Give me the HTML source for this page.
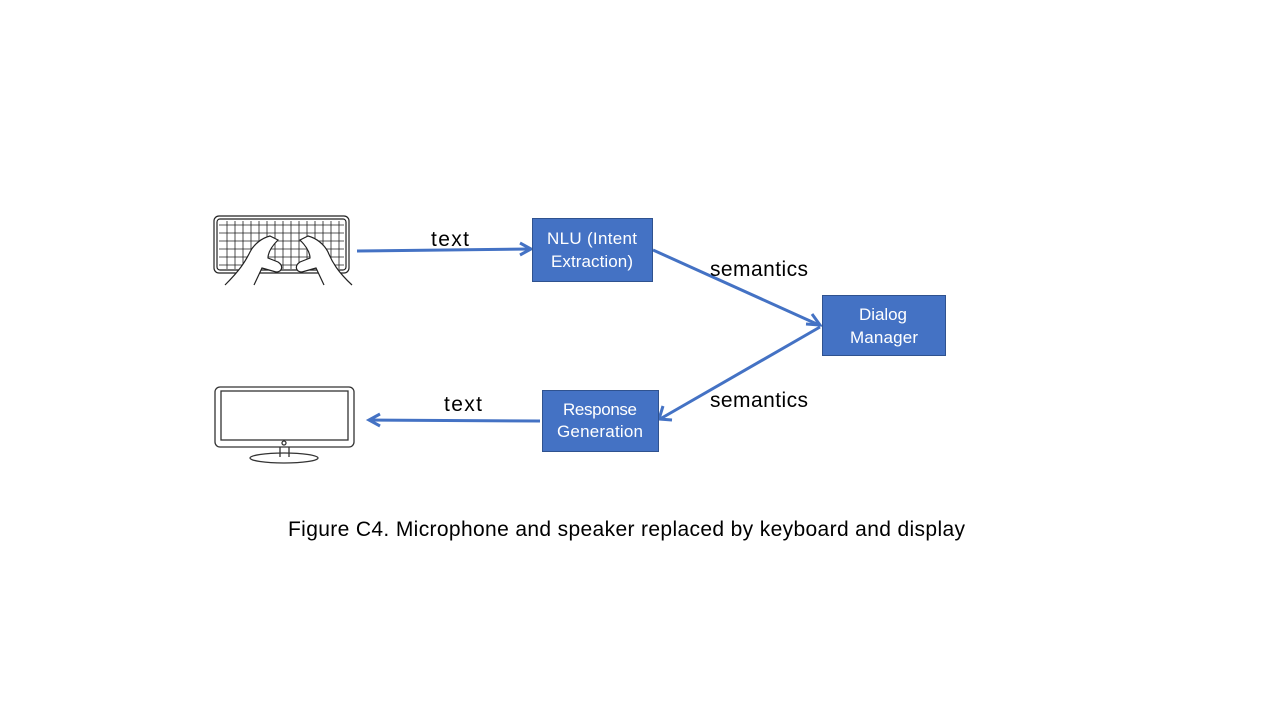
<!DOCTYPE html>
<html><head><meta charset="utf-8"><style>
html,body{margin:0;padding:0;background:#fff;width:1280px;height:720px;overflow:hidden}
svg{display:block}
text{font-family:"Liberation Sans",Calibri,sans-serif}
</style></head><body>
<svg width="1280" height="720" viewBox="0 0 1280 720" xmlns="http://www.w3.org/2000/svg">
<g fill="none" stroke="#222" stroke-width="1.2">
<rect x="214" y="216" width="135" height="57" rx="5"/>
<rect x="217" y="219" width="129" height="51" rx="3"/>
<g stroke-width="0.8">
<path d="M219 225h125M219 233h125M219 241h125M219 249h125M219 257h125M219 265h125"/>
<path d="M227 221v48M235 221v48M243 221v48M251 221v48M259 221v48M267 221v48M275 221v48M283 221v48M291 221v48M299 221v48M307 221v48M315 221v48M323 221v48M331 221v48M339 221v48"/>
</g>
<path d="M225 285 C240 270 245 262 250 252 C254 244 262 238 270 236 L278 240 C272 246 268 252 268 258 L278 262 C284 266 282 272 276 272 L262 268 L254 285" fill="#fff"/>
<path d="M352 285 C338 272 332 262 328 252 C324 244 316 238 308 236 L300 240 C306 246 310 252 310 258 L300 262 C294 266 296 272 302 272 L316 268 L324 285" fill="#fff"/>
</g>
<g fill="none" stroke="#333" stroke-width="1.3">
<rect x="215" y="387" width="139" height="60" rx="5"/>
<rect x="221" y="391" width="127" height="49"/>
<circle cx="284" cy="443" r="2"/>
<path d="M280 447v10M289 447v10"/>
<ellipse cx="284" cy="458" rx="34" ry="5"/>
</g>
<g stroke="#4472C4" stroke-width="3" fill="none">
<path d="M357 251 L530 249"/>
<path d="M520 243 L531 249 L520 255"/>
<path d="M653 250 L819 325"/>
<path d="M806 324 L820 325 L812 314"/>
<path d="M820 327 L660 419"/>
<path d="M663 406 L659 419 L672 420"/>
<path d="M540 421 L369 420"/>
<path d="M380 414 L369 420 L380 426"/>
</g>
<g fill="#4472C4" stroke="#2F528F" stroke-width="1">
<rect x="532.5" y="218.5" width="120" height="63"/>
<rect x="822.5" y="295.5" width="123" height="60"/>
<rect x="542.5" y="390.5" width="116" height="61"/>
</g>
<g fill="#fff" font-size="17">
<text x="547" y="244" textLength="90">NLU (Intent</text>
<text x="551" y="267" textLength="82">Extraction)</text>
<text x="859" y="320" textLength="48">Dialog</text>
<text x="850" y="343" textLength="68">Manager</text>
<text x="563" y="415" textLength="74">Response</text>
<text x="557" y="437" textLength="86">Generation</text>
</g>
<g fill="#000" font-size="21">
<text x="431" y="246" textLength="38">text</text>
<text x="444" y="411" textLength="38">text</text>
<text x="710" y="276" textLength="98">semantics</text>
<text x="710" y="407" textLength="98">semantics</text>
<text x="288" y="536" textLength="677">Figure C4. Microphone and speaker replaced by keyboard and display</text>
</g>
</svg>
</body></html>
